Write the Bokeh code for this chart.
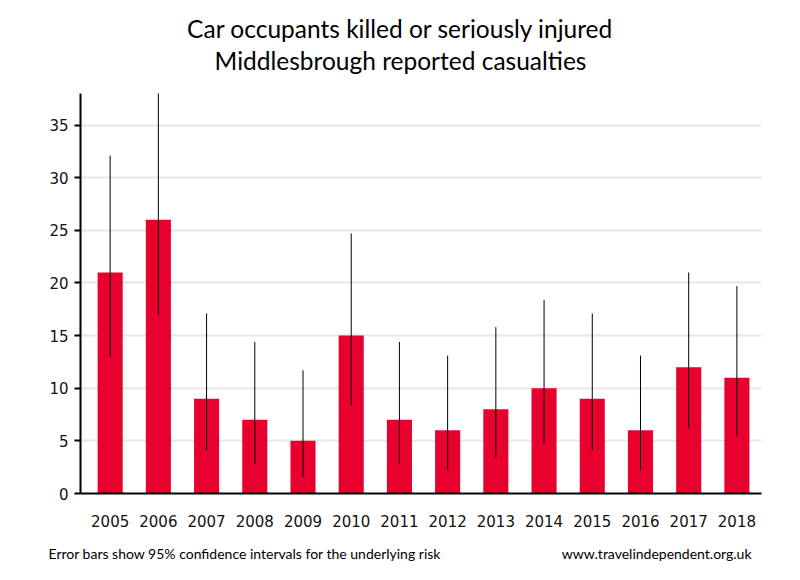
from bokeh.plotting import figure
from bokeh.models import Range1d, FixedTicker
from bokeh.layouts import column
from bokeh.core.properties import value
from bokeh.embed import file_html
from bokeh.resources import INLINE

years = [2005, 2006, 2007, 2008, 2009, 2010, 2011, 2012, 2013, 2014, 2015, 2016, 2017, 2018]
casualties = [21, 26, 9, 7, 5, 15, 7, 6, 8, 10, 9, 6, 12, 11]
ci_low = [13.0, 17.0, 4.1, 2.8, 1.6, 8.4, 2.8, 2.2, 3.4, 4.8, 4.1, 2.2, 6.2, 5.5]
ci_high = [32.1, 38.1, 17.1, 14.4, 11.7, 24.7, 14.4, 13.1, 15.8, 18.4, 17.1, 13.1, 21.0, 19.7]
y_ticks = [0, 5, 10, 15, 20, 25, 30, 35]

title_lines = ["Car occupants killed or seriously injured", "Middlesbrough reported casualties"]
note_left = "Error bars show 95% confidence intervals for the underlying risk"
note_right = "www.travelindependent.org.uk"

W = 800
TITLE_H, MAIN_H, FOOT_H = 93, 445, 42


def text_panel(h):
    f = figure(width=W, height=h, output_backend="svg", toolbar_location=None,
               x_range=Range1d(0, W), y_range=Range1d(0, h),
               x_axis_type=None, y_axis_type=None,
               min_border_left=0, min_border_right=0, min_border_top=0, min_border_bottom=0)
    f.outline_line_color = None
    f.xgrid.grid_line_color = None
    f.ygrid.grid_line_color = None
    f.frame_align = False
    return f


# title
t = text_panel(TITLE_H)
t.text(x=[400, 400], y=[65, 33], text=title_lines, text_align="center", text_baseline="middle",
       text_font=value("Lato"), text_font_size="24.5px", text_color="black")

# main chart
p = figure(width=W, height=MAIN_H, output_backend="svg", toolbar_location=None,
           x_range=Range1d(2004.385, 2018.51), y_range=Range1d(0, 38),
           min_border_left=80, min_border_right=39, min_border_top=0, min_border_bottom=45)
p.outline_line_color = None
p.frame_align = False

p.vbar(x=years, top=casualties, width=0.52, color="#E8002F", line_color=None)
p.segment(x0=years, x1=years, y0=ci_low, y1=ci_high, line_color="black", line_width=1)

p.xgrid.grid_line_color = None
p.ygrid.grid_line_color = "#e6e6e6"
p.ygrid.grid_line_width = 2
p.ygrid.ticker = FixedTicker(ticks=y_ticks)

p.yaxis.ticker = FixedTicker(ticks=y_ticks)
p.yaxis.axis_line_width = 2
p.yaxis.axis_line_color = "black"
p.yaxis.major_tick_line_width = 2
p.yaxis.major_tick_out = 6
p.yaxis.major_tick_in = 0
p.yaxis.minor_tick_line_color = None
p.yaxis.major_label_text_font = "DejaVu Sans"
p.yaxis.major_label_text_font_size = "15px"
p.yaxis.major_label_text_color = "#111111"
p.yaxis.major_label_standoff = 6

p.xaxis.ticker = FixedTicker(ticks=years)
p.xaxis.axis_line_width = 2
p.xaxis.axis_line_color = "black"
p.xaxis.major_tick_line_color = None
p.xaxis.minor_tick_line_color = None
p.xaxis.major_label_text_font = "DejaVu Sans"
p.xaxis.major_label_text_font_size = "15px"
p.xaxis.major_label_text_color = "#111111"
p.xaxis.major_label_standoff = 15

# footer
f = text_panel(FOOT_H)
f.text(x=[48], y=[27], text=[note_left], text_align="left", text_baseline="middle",
       text_font=value("Lato"), text_font_size="14px", text_color="black")
f.text(x=[751], y=[27], text=[note_right], text_align="right", text_baseline="middle",
       text_font=value("Lato"), text_font_size="14px", text_color="black")

layout = column(t, p, f, spacing=0)
open("out.html", "w").write(file_html(layout, INLINE))
